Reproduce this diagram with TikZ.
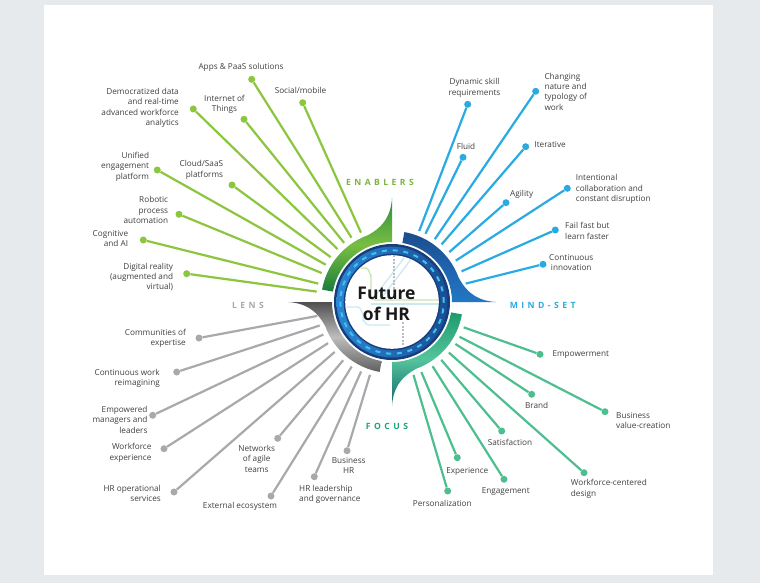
\documentclass[tikz,border=0pt]{standalone}
\usepackage{fontspec}
\setmainfont{Open Sans}
\newfontfamily\spacedfont[LetterSpace=40]{Open Sans}
\usepackage{tikz}
\usetikzlibrary{calc}
\usepackage{xcolor}
\definecolor{hrpanel}{HTML}{E6EAED}
\definecolor{hrtext}{HTML}{404040}
\definecolor{hrgreen}{HTML}{8CC63F}
\definecolor{hrblue}{HTML}{29ABE2}
\definecolor{hrgray}{HTML}{A7A9AC}
\definecolor{hrteal}{HTML}{4DBF8F}
\definecolor{secgreen}{HTML}{7DB340}
\definecolor{secteal}{HTML}{1EA47A}
\definecolor{hrnavy}{HTML}{173E7A}
\definecolor{ringlight}{HTML}{2B86D4}
\definecolor{ringdark}{HTML}{1A4E96}
\definecolor{hrdash}{HTML}{3CC4EE}
\definecolor{mapgreen}{HTML}{C8E4B2}
\definecolor{mapblue}{HTML}{CBE9F5}
\definecolor{mapgray}{HTML}{BDBDBD}
\definecolor{greenA}{HTML}{2E8B3E}
\definecolor{greenB}{HTML}{78BE43}
\definecolor{greenC}{HTML}{1B7D3B}
\definecolor{blueA}{HTML}{1C4C8C}
\definecolor{blueB}{HTML}{1E63AE}
\definecolor{blueC}{HTML}{2277C4}
\definecolor{grayA}{HTML}{4F4F4F}
\definecolor{grayB}{HTML}{BDBDBD}
\definecolor{grayC}{HTML}{5F5F5F}
\definecolor{tealA}{HTML}{1E9A6F}
\definecolor{tealB}{HTML}{55C49C}
\definecolor{tealC}{HTML}{0F6469}
% one compass arm: rotation, end colour, middle colour, spike colour
\newcommand{\hrarm}[4]{%
  \shade[rotate=-#1, top color=#2, bottom color=#4, middle color=#3]
    (0:60) -- (104,0) .. controls (88,1) and (76,7) .. (20:71)
    arc[start angle=20, end angle=80, radius=71]
    -- (80:60) arc[start angle=80, end angle=0, radius=60] -- cycle;}

\begin{document}
\begin{tikzpicture}[x=1pt, y=-1pt,
  lbl/.style={font=\fontsize{8.2}{10.3}\selectfont, text=hrtext, inner sep=0pt},
  dot/.style={circle, fill=#1, inner sep=0pt, minimum size=7pt},
  spoke/.style={line width=2.2pt, draw=#1},
  sector/.style={font=\spacedfont\bfseries\fontsize{8.6}{10}\selectfont,
                 text=#1, inner sep=0pt},
  maprail/.style={line width=1.3pt, #1}
]

% === Panel ===
\useasboundingbox (0,0) rectangle (760,583);
\fill[hrpanel] (0,0) rectangle (760,583);
\fill[white] (44,5) rectangle (713,575);

\coordinate (core) at (392,302);

% === Enablers (green, upper left) ===
\node[dot=hrgreen] (apps)      at (251.7,  79.3) {};
\node[dot=hrgreen] (social)    at (302.7, 102.7) {};
\node[dot=hrgreen] (democ)     at (193.3, 109.0) {};
\node[dot=hrgreen] (iot)       at (244.0, 119.3) {};
\node[dot=hrgreen] (unified)   at (157.3, 170.0) {};
\node[dot=hrgreen] (cloud)     at (232.0, 185.0) {};
\node[dot=hrgreen] (robotic)   at (179.0, 214.3) {};
\node[dot=hrgreen] (cognitive) at (143.3, 240.0) {};
\node[dot=hrgreen] (digital)   at (186.7, 273.7) {};

\draw[spoke=hrgreen] (apps)      -- ($(core)!76pt!(apps)$);
\draw[spoke=hrgreen] (social)    -- ($(core)!76pt!(social)$);
\draw[spoke=hrgreen] (democ)     -- ($(core)!76pt!(democ)$);
\draw[spoke=hrgreen] (iot)       -- ($(core)!76pt!(iot)$);
\draw[spoke=hrgreen] (unified)   -- ($(core)!76pt!(unified)$);
\draw[spoke=hrgreen] (cloud)     -- ($(core)!76pt!(cloud)$);
\draw[spoke=hrgreen] (robotic)   -- ($(core)!76pt!(robotic)$);
\draw[spoke=hrgreen] (cognitive) -- ($(core)!76pt!(cognitive)$);
\draw[spoke=hrgreen] (digital)   -- ($(core)!76pt!(digital)$);

\node[lbl] (t-apps) at (241, 67.7) {Apps \& PaaS solutions};
\node[lbl] (t-social) at (300.5, 90) {Social/mobile};
\node[lbl, anchor=east, align=right] (t-democ) at (179, 108)
  {Democratized data\\and real-time\\advanced workforce\\analytics};
\node[lbl, align=center] (t-iot) at (224.5, 104) {Internet of\\Things};
\node[lbl, anchor=east, align=right] (t-unified) at (149.3, 166.7)
  {Unified\\engagement\\platform};
\node[lbl, anchor=east, align=right] (t-cloud) at (223.3, 170)
  {Cloud/SaaS\\platforms};
\node[lbl, anchor=east, align=right] (t-robotic) at (168.3, 210)
  {Robotic\\process\\automation};
\node[lbl, anchor=east, align=right] (t-cognitive) at (128.3, 238.5)
  {Cognitive\\and AI};
\node[lbl, anchor=east, align=right] (t-digital) at (173.3, 277)
  {Digital reality\\(augmented and\\virtual)};

% === Mind-set (blue, upper right) ===
\node[dot=hrblue] (dynamic)     at (467.7, 104.3) {};
\node[dot=hrblue] (changing)    at (535.7,  91.3) {};
\node[dot=hrblue] (fluid)       at (463.0, 157.3) {};
\node[dot=hrblue] (iterative)   at (525.7, 146.7) {};
\node[dot=hrblue] (agility)     at (506.0, 202.7) {};
\node[dot=hrblue] (intentional) at (567.3, 188.3) {};
\node[dot=hrblue] (failfast)    at (555.3, 230.0) {};
\node[dot=hrblue] (innovation)  at (543.0, 264.3) {};

\draw[spoke=hrblue] (dynamic)     -- ($(core)!76pt!(dynamic)$);
\draw[spoke=hrblue] (changing)    -- ($(core)!76pt!(changing)$);
\draw[spoke=hrblue] (fluid)       -- ($(core)!76pt!(fluid)$);
\draw[spoke=hrblue] (iterative)   -- ($(core)!76pt!(iterative)$);
\draw[spoke=hrblue] (agility)     -- ($(core)!76pt!(agility)$);
\draw[spoke=hrblue] (intentional) -- ($(core)!76pt!(intentional)$);
\draw[spoke=hrblue] (failfast)    -- ($(core)!76pt!(failfast)$);
\draw[spoke=hrblue] (innovation)  -- ($(core)!76pt!(innovation)$);

\node[lbl, align=center] (t-dynamic) at (474.5, 88)
  {Dynamic skill\\requirements};
\node[lbl, anchor=west, align=left] (t-changing) at (544.3, 91.5)
  {Changing\\nature and\\typology of\\work};
\node[lbl] (t-fluid) at (466, 146) {Fluid};
\node[lbl, anchor=west] (t-iterative) at (534.3, 144.3) {Iterative};
\node[lbl, anchor=west] (t-agility) at (510, 194) {Agility};
\node[lbl, anchor=west, align=left] (t-intentional) at (575.7, 189)
  {Intentional\\collaboration and\\constant disruption};
\node[lbl, anchor=west, align=left] (t-failfast) at (565, 231)
  {Fail fast but\\learn faster};
\node[lbl, anchor=west, align=center] (t-innovation) at (549, 262.7)
  {Continuous\\innovation};

% === Lens (gray, lower left) ===
\node[dot=hrgray] (communities) at (199.0, 338.0) {};
\node[dot=hrgray] (reimagining) at (176.7, 372.0) {};
\node[dot=hrgray] (empowered)   at (152.7, 415.3) {};
\node[dot=hrgray] (wfexp)       at (164.0, 448.7) {};
\node[dot=hrgray] (hrops)       at (174.0, 492.0) {};
\node[dot=hrgray] (external)    at (271.0, 496.0) {};
\node[dot=hrgray] (networks)    at (277.7, 438.3) {};
\node[dot=hrgray] (hrlead)      at (314.3, 476.7) {};
\node[dot=hrgray] (business)    at (347.0, 450.7) {};

\draw[spoke=hrgray] (communities) -- ($(core)!76pt!(communities)$);
\draw[spoke=hrgray] (reimagining) -- ($(core)!76pt!(reimagining)$);
\draw[spoke=hrgray] (empowered)   -- ($(core)!76pt!(empowered)$);
\draw[spoke=hrgray] (wfexp)       -- ($(core)!76pt!(wfexp)$);
\draw[spoke=hrgray] (hrops)       -- ($(core)!76pt!(hrops)$);
\draw[spoke=hrgray] (external)    -- ($(core)!76pt!(external)$);
\draw[spoke=hrgray] (networks)    -- ($(core)!76pt!(networks)$);
\draw[spoke=hrgray] (hrlead)      -- ($(core)!76pt!(hrlead)$);
\draw[spoke=hrgray] (business)    -- ($(core)!76pt!(business)$);

\node[lbl, anchor=east, align=right] (t-communities) at (186, 338.5)
  {Communities of\\expertise};
\node[lbl, anchor=east, align=right] (t-reimagining) at (160, 378.3)
  {Continuous work\\reimagining};
\node[lbl, anchor=east, align=right] (t-empowered) at (147.7, 419.7)
  {Empowered\\managers and\\leaders};
\node[lbl, anchor=east, align=right] (t-wfexp) at (151.7, 452.7)
  {Workforce\\experience};
\node[lbl, anchor=east, align=right] (t-hrops) at (161, 493.7)
  {HR operational\\services};
\node[lbl] (t-external) at (240, 506.7) {External ecosystem};
\node[lbl, align=center] (t-networks) at (256.7, 458.8)
  {Networks\\of agile\\teams};
\node[lbl, anchor=west, align=left] (t-hrlead) at (299, 494.3)
  {HR leadership\\and governance};
\node[lbl, align=center] (t-business) at (348.7, 465.3) {Business\\HR};

% === Focus (teal, lower right) ===
\node[dot=hrteal] (empowerment)  at (540.0, 354.3) {};
\node[dot=hrteal] (bizvalue)     at (605.0, 411.7) {};
\node[dot=hrteal] (brand)        at (531.7, 394.3) {};
\node[dot=hrteal] (satisfaction) at (501.7, 431.0) {};
\node[dot=hrteal] (wfdesign)     at (584.0, 472.7) {};
\node[dot=hrteal] (experience)   at (457.3, 457.7) {};
\node[dot=hrteal] (engagement)   at (504.0, 479.3) {};
\node[dot=hrteal] (personal)     at (447.7, 491.0) {};

\draw[spoke=hrteal] (empowerment)  -- ($(core)!76pt!(empowerment)$);
\draw[spoke=hrteal] (bizvalue)     -- ($(core)!76pt!(bizvalue)$);
\draw[spoke=hrteal] (brand)        -- ($(core)!76pt!(brand)$);
\draw[spoke=hrteal] (satisfaction) -- ($(core)!76pt!(satisfaction)$);
\draw[spoke=hrteal] (wfdesign)     -- ($(core)!76pt!(wfdesign)$);
\draw[spoke=hrteal] (experience)   -- ($(core)!76pt!(experience)$);
\draw[spoke=hrteal] (engagement)   -- ($(core)!76pt!(engagement)$);
\draw[spoke=hrteal] (personal)     -- ($(core)!76pt!(personal)$);

\node[lbl, anchor=west] (t-empowerment) at (552.3, 354.3) {Empowerment};
\node[lbl, anchor=west, align=left] (t-bizvalue) at (616, 420.3)
  {Business\\value-creation};
\node[lbl] (t-brand) at (536.7, 405) {Brand};
\node[lbl] (t-satisfaction) at (510, 442.7) {Satisfaction};
\node[lbl, anchor=west, align=left] (t-wfdesign) at (570.7, 488.8)
  {Workforce-centered\\design};
\node[lbl] (t-experience) at (467.3, 471) {Experience};
\node[lbl] (t-engagement) at (505.7, 491.7) {Engagement};
\node[lbl] (t-personal) at (442.3, 503.3) {Personalization};

% === Compass: four arms and the ring ===
\begin{scope}[shift={(core)}, yscale=-1]
  \hrarm{90}{greenA}{greenB}{greenC}
  \hrarm{0}{blueA}{blueB}{blueC}
  \hrarm{180}{grayA}{grayB}{grayC}
  \hrarm{270}{tealA}{tealB}{tealC}
  \fill[hrnavy] (0,0) circle[radius=58];
  \shade[left color=ringlight, right color=ringdark] (0,0) circle[radius=55.5];
  \draw[hrdash, line width=2pt, dash pattern=on 5pt off 5.8pt]
    (0,0) circle[radius=51.7];
  \fill[hrnavy] (0,0) circle[radius=48.3];
  \fill[white] (0,0) circle[radius=46.8];
  % faint metro lines behind the title
  \begin{scope}
    \clip (0,0) circle[radius=46.8];
    \draw[maprail=mapgreen] (-47,34) -- (-26,34) to[out=0, in=90] (-21,26)
      -- (-21,6) to[out=-90, in=180] (-17,2) -- (47,2);
    \draw[maprail=mapblue] (-21,-2) -- (47,-2);
    \draw[maprail=mapblue] (-47,-5) -- (-34,-5) to[out=0, in=90] (-29,-11)
      -- (-29,-18) to[out=-90, in=180] (-24,-23) -- (-2,-23);
    \draw[maprail=mapblue] (-20,2) -- (12,44);
    \draw[maprail=mapblue] (-12,2) -- (20,44);
    \draw[maprail=mapgray, line width=1.1pt, dash pattern=on 2pt off 1.5pt]
      (2,47) -- (2,6);
    \draw[maprail=mapgray, line width=1.1pt, dash pattern=on 2pt off 1.5pt]
      (11,-20) -- (11,-47);
  \end{scope}
\end{scope}

\node[font=\fontsize{17.5}{21.5}\selectfont\bfseries, text=black!90,
      align=center, inner sep=0pt] (hub) at (386.5, 304) {Future\\of HR};

% === Sector names ===
\node[sector=secgreen] (enablers) at (380, 182.3) {ENABLERS};
\node[sector=hrblue]   (mindset)  at (542.7, 305.7) {MIND-SET};
\node[sector=hrgray]   (lens)     at (248, 305.7) {LENS};
\node[sector=secteal]  (focus)    at (387, 426) {FOCUS};

\end{tikzpicture}
\end{document}
